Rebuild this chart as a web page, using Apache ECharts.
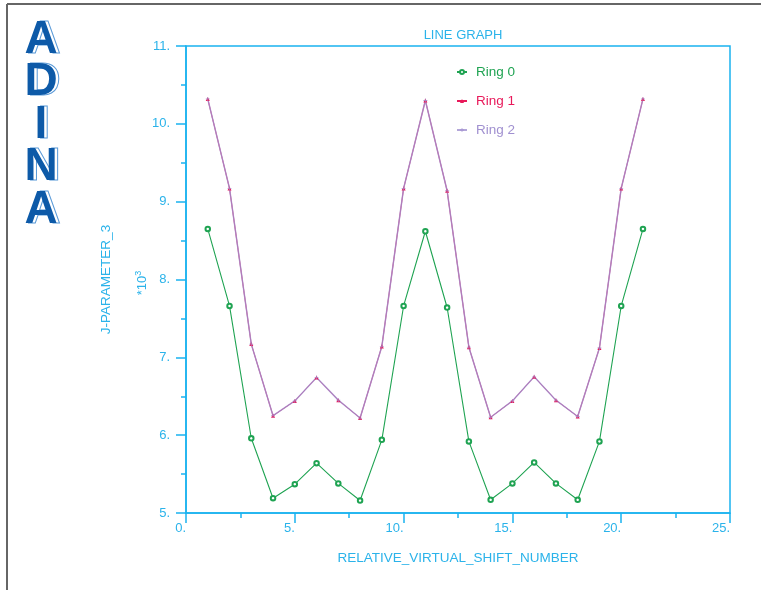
<!DOCTYPE html>
<html>
<head>
<meta charset="utf-8">
<script src="https://cdn.jsdelivr.net/npm/echarts@6/dist/echarts.min.js"></script>
<style>html,body{margin:0;padding:0;background:#fff;}#c{width:761px;height:590px;}</style>
</head>
<body>
<div id="c"></div>
<script>
const shiftNumbers = [1,2,3,4,5,6,7,8,9,10,11,12,13,14,15,16,17,18,19,20,21];
const ring0 = [8.65,7.66,5.96,5.19,5.37,5.64,5.38,5.16,5.94,7.66,8.62,7.64,5.92,5.17,5.38,5.65,5.38,5.17,5.92,7.66,8.65];
const ring1 = [10.32,9.17,7.17,6.25,6.44,6.74,6.45,6.22,7.14,9.17,10.30,9.14,7.13,6.23,6.44,6.75,6.45,6.24,7.12,9.17,10.32];
const ring2 = [10.32,9.17,7.17,6.25,6.44,6.74,6.45,6.22,7.14,9.17,10.30,9.14,7.13,6.23,6.44,6.75,6.45,6.24,7.12,9.17,10.32];
const seriesNames = ['Ring 0','Ring 1','Ring 2'];
const xTicks = {min:0, max:25, interval:5};
const yTicks = {min:5, max:11, interval:1};
const logoLetters = ['A','D','I','N','A'];

const AX = '#1ab2ef';
const TX = '#2bb3ea';
const FONT = '"Liberation Sans", Arial, sans-serif';
const colors = {r0:'#1fa352', r1:'#e8195a', r2:'#a090d0'};

function pairs(vals){ return shiftNumbers.map((x,i)=>[x, vals[i]]); }

const chart = echarts.init(document.getElementById('c'), null, {renderer:'canvas'});

const logo = [];
logoLetters.forEach((ch, i) => {
  const cy = 40 + i * 42.6;
  logo.push({type:'text', x:44, y:cy, z:1, style:{text:ch, fill:'none', stroke:'#5a9ad8', lineWidth:1, font:'bold 46px ' + FONT, align:'center', verticalAlign:'middle'}});
  logo.push({type:'text', x:41, y:cy, z:2, style:{text:ch, fill:'#0d5aa8', font:'bold 46px ' + FONT, align:'center', verticalAlign:'middle'}});
});

const option = {
  animation:false,
  backgroundColor:'#fff',
  title:{text:'LINE GRAPH', left:458, top:24, textAlign:'center',
    textStyle:{color:TX, fontSize:13, fontWeight:'normal', fontFamily:FONT}},
  grid:{left:186, right:31, top:46, bottom:77, show:true, borderColor:AX, borderWidth:1.5, containLabel:false},
  legend:{orient:'vertical', left:451, top:60, itemWidth:10, itemHeight:5, itemGap:15,
    data:[
      {name:'Ring 0', textStyle:{color:colors.r0}},
      {name:'Ring 1', textStyle:{color:colors.r1}},
      {name:'Ring 2', textStyle:{color:colors.r2}}
    ],
    textStyle:{fontSize:13.5, fontFamily:FONT, padding:[0,0,0,4], lineHeight:14}},
  xAxis:{type:'value', min:xTicks.min, max:xTicks.max, interval:xTicks.interval,
    name:'RELATIVE_VIRTUAL_SHIFT_NUMBER', nameLocation:'middle', nameGap:38,
    nameTextStyle:{color:TX, fontSize:13.5, fontFamily:FONT},
    axisLine:{show:true, lineStyle:{color:AX, width:1.5}},
    axisTick:{show:true, length:10, lineStyle:{color:AX, width:1.5}},
    minorTick:{show:true, splitNumber:2, length:5, lineStyle:{color:AX, width:1.5}},
    splitLine:{show:false},
    axisLabel:{color:TX, fontSize:13, fontFamily:FONT, margin:9, align:'right', formatter:v=>v+'.'}},
  yAxis:{type:'value', min:yTicks.min, max:yTicks.max, interval:yTicks.interval,
    name:'J-PARAMETER_3', nameLocation:'middle', nameGap:73, nameRotate:90,
    nameTextStyle:{color:TX, fontSize:13.5, fontFamily:FONT},
    axisLine:{show:true, lineStyle:{color:AX, width:1.5}},
    axisTick:{show:true, length:10, lineStyle:{color:AX, width:1.5}},
    minorTick:{show:true, splitNumber:2, length:5, lineStyle:{color:AX, width:1.5}},
    splitLine:{show:false},
    axisLabel:{color:TX, fontSize:13, fontFamily:FONT, margin:16, formatter:v=>v+'.'}},
  series:[
    {name:seriesNames[0], type:'line', data:pairs(ring0), symbol:'emptyCircle', symbolSize:4.5,
      itemStyle:{color:colors.r0, borderWidth:1}, lineStyle:{color:colors.r0, width:1.1}},
    {name:seriesNames[1], type:'line', data:pairs(ring1), symbol:'triangle', symbolSize:4,
      itemStyle:{color:colors.r1}, lineStyle:{color:colors.r1, width:1}},
    {name:seriesNames[2], type:'line', data:pairs(ring2), symbol:'path://M4,0h2v4h4v2h-4v4h-2v-4h-4v-2h4z', symbolSize:4,
      itemStyle:{color:colors.r2, opacity:0.8}, lineStyle:{color:colors.r2, width:1.5, opacity:0.8}}
  ],
  graphic:[
    {type:'line', shape:{x1:7, y1:4, x2:761, y2:4}, style:{stroke:'#666', lineWidth:2}},
    {type:'line', shape:{x1:7, y1:4, x2:7, y2:590}, style:{stroke:'#666', lineWidth:2}},
    {type:'text', x:142, y:283, rotation:Math.PI/2, style:{
      text:'{a|*10}{b|3}', align:'center', verticalAlign:'middle',
      rich:{a:{fill:TX, fontSize:13, fontFamily:FONT}, b:{fill:TX, fontSize:9, fontFamily:FONT, verticalAlign:'top', padding:[0,0,7,0]}}
    }}
  ].concat(logo)
};
chart.setOption(option);
</script>
</body>
</html>
